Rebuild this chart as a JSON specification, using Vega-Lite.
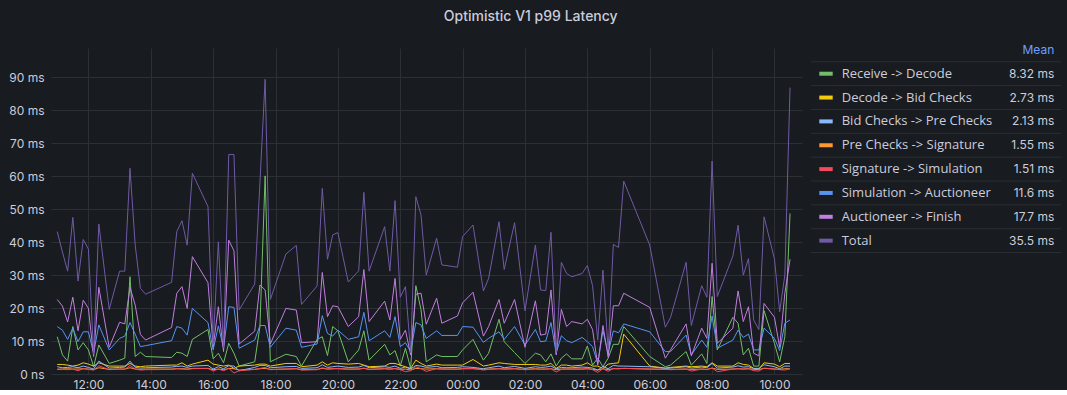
{
"$schema": "https://vega.github.io/schema/vega-lite/v6.json",
"background": "#181b1f",
"padding": {"left": 0, "top": 9, "right": 7, "bottom": 0},
"title": {"text": "Optimistic V1 p99 Latency", "anchor": "middle", "offset": 20, "fontSize": 14, "font": "Inter", "fontWeight": 500, "color": "#CCCCDC"},
"config": {"view": {"stroke": null}, "font": "Inter"},
"spacing": 8,
"datasets": {
"series": [
{"t":"2024-01-01T11:00","rd":11.3,"db":2.9,"bp":2.2,"ps":1.4,"ss":1.5,"sa":14.4,"af":22.6,"tot":43.2},
{"t":"2024-01-01T11:10","rd":5.8,"db":2.9,"bp":1.9,"ps":1.5,"ss":1.4,"sa":13.3,"af":20.6,"tot":37},
{"t":"2024-01-01T11:20","rd":3.9,"db":2.7,"bp":2.0,"ps":1.6,"ss":1.3,"sa":10.5,"af":15.8,"tot":31.2},
{"t":"2024-01-01T11:30","rd":14.4,"db":2.4,"bp":2.2,"ps":1.5,"ss":1.5,"sa":13.9,"af":23.3,"tot":47.5},
{"t":"2024-01-01T11:40","rd":7.3,"db":2.7,"bp":1.9,"ps":1.5,"ss":1.0,"sa":9.8,"af":13.1,"tot":28.2},
{"t":"2024-01-01T11:50","rd":9.5,"db":3.4,"bp":2.4,"ps":1.6,"ss":1.6,"sa":12.8,"af":22.4,"tot":40.8},
{"t":"2024-01-01T12:00","rd":7.3,"db":3.0,"bp":2.0,"ps":1.5,"ss":1.4,"sa":12.8,"af":19.9,"tot":37.9},
{"t":"2024-01-01T12:10","rd":2.2,"db":2.4,"bp":1.5,"ps":1.3,"ss":1.2,"sa":6.3,"af":5.3,"tot":6},
{"t":"2024-01-01T12:20","rd":8.8,"db":3.4,"bp":3.9,"ps":1.9,"ss":2.5,"sa":14.9,"af":26.3,"tot":45.5},
{"t":"2024-01-01T12:40","rd":3.2,"db":2.4,"bp":1.8,"ps":1.4,"ss":1.3,"sa":7.3,"af":8.1,"tot":19.6},
{"t":"2024-01-01T13:00","rd":4.2,"db":2.4,"bp":2.0,"ps":1.5,"ss":1.5,"sa":10.8,"af":15.7,"tot":31.2},
{"t":"2024-01-01T13:10","rd":4.8,"db":2.4,"bp":2.1,"ps":1.5,"ss":1.4,"sa":11.5,"af":15.2,"tot":31.2},
{"t":"2024-01-01T13:20","rd":29.5,"db":3.2,"bp":3.9,"ps":1.9,"ss":2.6,"sa":15.6,"af":26.3,"tot":62.4},
{"t":"2024-01-01T13:30","rd":5.3,"db":2.4,"bp":2.0,"ps":1.5,"ss":1.5,"sa":12.1,"af":20.9,"tot":39.1},
{"t":"2024-01-01T13:40","rd":6.6,"db":2.2,"bp":1.8,"ps":1.4,"ss":1.2,"sa":8.3,"af":12,"tot":26},
{"t":"2024-01-01T13:50","rd":5.3,"db":2.4,"bp":1.9,"ps":1.5,"ss":1.3,"sa":8.6,"af":10.3,"tot":24.2},
{"t":"2024-01-01T14:40","rd":5,"db":2.7,"bp":2.1,"ps":1.5,"ss":1.4,"sa":10.1,"af":14.1,"tot":27.8},
{"t":"2024-01-01T14:50","rd":6.6,"db":2.7,"bp":2.3,"ps":1.6,"ss":1.6,"sa":14.4,"af":24.5,"tot":43.2},
{"t":"2024-01-01T15:00","rd":6.3,"db":3.4,"bp":2.4,"ps":1.6,"ss":1.5,"sa":13.9,"af":26.5,"tot":46.5},
{"t":"2024-01-01T15:10","rd":5.3,"db":2.4,"bp":2.0,"ps":1.5,"ss":1.4,"sa":11.8,"af":19.9,"tot":39.1},
{"t":"2024-01-01T15:20","rd":10.5,"db":3.0,"bp":2.4,"ps":1.7,"ss":1.6,"sa":19.9,"af":35.6,"tot":60.9},
{"t":"2024-01-01T15:50","rd":13.5,"db":4.2,"bp":2.6,"ps":1.7,"ss":1.7,"sa":15.6,"af":27.7,"tot":50.8},
{"t":"2024-01-01T16:00","rd":4.6,"db":3.0,"bp":1.5,"ps":1.3,"ss":0.9,"sa":7.3,"af":8.3,"tot":9},
{"t":"2024-01-01T16:10","rd":6.3,"db":2.7,"bp":2.2,"ps":1.5,"ss":1.5,"sa":14.6,"af":20.4,"tot":40.1},
{"t":"2024-01-01T16:20","rd":3.4,"db":2.4,"bp":1.6,"ps":1.3,"ss":1.0,"sa":7.8,"af":6.8,"tot":8},
{"t":"2024-01-01T16:30","rd":9.3,"db":2.7,"bp":2.5,"ps":1.7,"ss":1.7,"sa":20.4,"af":40.6,"tot":66.6},
{"t":"2024-01-01T16:40","rd":6.3,"db":1.7,"bp":2.4,"ps":1.6,"ss":0.3,"sa":20.2,"af":37.4,"tot":66.6},
{"t":"2024-01-01T16:50","rd":2.4,"db":2.4,"bp":1.0,"ps":1.2,"ss":1.0,"sa":7.8,"af":9.1,"tot":19.4},
{"t":"2024-01-01T17:20","rd":3.7,"db":2.7,"bp":2.0,"ps":1.4,"ss":1.4,"sa":10.3,"af":13,"tot":27.3},
{"t":"2024-01-01T17:30","rd":14.4,"db":3.0,"bp":2.6,"ps":1.6,"ss":1.7,"sa":14.7,"af":27,"tot":58},
{"t":"2024-01-01T17:40","rd":60.1,"db":3.0,"bp":2.6,"ps":1.7,"ss":2.0,"sa":14.7,"af":25.5,"tot":89.4},
{"t":"2024-01-01T17:50","rd":3.7,"db":2.4,"bp":1.9,"ps":1.4,"ss":1.3,"sa":8.1,"af":9.1,"tot":22.6},
{"t":"2024-01-01T18:20","rd":6,"db":3.2,"bp":2.2,"ps":1.5,"ss":1.5,"sa":13.9,"af":19.9,"tot":36.4},
{"t":"2024-01-01T18:40","rd":5.3,"db":3.2,"bp":2.3,"ps":1.6,"ss":1.6,"sa":13.3,"af":19.4,"tot":39},
{"t":"2024-01-01T18:50","rd":2.4,"db":2.2,"bp":1.7,"ps":1.3,"ss":1.2,"sa":8.1,"af":9.5,"tot":21.1},
{"t":"2024-01-01T19:20","rd":10.5,"db":2.7,"bp":1.9,"ps":1.4,"ss":1.3,"sa":9.1,"af":9.8,"tot":26.7},
{"t":"2024-01-01T19:30","rd":11.3,"db":3.7,"bp":2.8,"ps":1.7,"ss":1.9,"sa":17.7,"af":30.8,"tot":56.3},
{"t":"2024-01-01T19:40","rd":5.6,"db":2.7,"bp":2.0,"ps":1.5,"ss":1.5,"sa":12.3,"af":17.4,"tot":34.8},
{"t":"2024-01-01T19:50","rd":14.4,"db":3.4,"bp":2.2,"ps":1.6,"ss":1.6,"sa":11.5,"af":20.7,"tot":42.2},
{"t":"2024-01-01T20:00","rd":13.1,"db":3.2,"bp":2.4,"ps":1.6,"ss":1.7,"sa":13.3,"af":20.4,"tot":42.9},
{"t":"2024-01-01T20:20","rd":3.7,"db":3.0,"bp":2.0,"ps":1.5,"ss":1.4,"sa":10.5,"af":14.4,"tot":27.9},
{"t":"2024-01-01T20:40","rd":7.3,"db":3.2,"bp":2.1,"ps":1.5,"ss":1.5,"sa":11.3,"af":17.4,"tot":31.3},
{"t":"2024-01-01T20:50","rd":13.1,"db":2.7,"bp":2.6,"ps":1.7,"ss":1.8,"sa":18.7,"af":31.7,"tot":55.1},
{"t":"2024-01-01T21:00","rd":4.2,"db":2.2,"bp":1.9,"ps":1.4,"ss":1.4,"sa":10.1,"af":15.9,"tot":31.2},
{"t":"2024-01-01T21:30","rd":9,"db":2.4,"bp":2.2,"ps":1.6,"ss":1.6,"sa":13.1,"af":22.1,"tot":44.7},
{"t":"2024-01-01T21:40","rd":5.8,"db":3.2,"bp":2.0,"ps":1.5,"ss":1.5,"sa":11.1,"af":16.4,"tot":31.2},
{"t":"2024-01-01T21:50","rd":7.1,"db":3.2,"bp":2.4,"ps":1.6,"ss":1.7,"sa":17.4,"af":29,"tot":52.6},
{"t":"2024-01-01T22:00","rd":2.4,"db":2.7,"bp":1.7,"ps":1.4,"ss":1.3,"sa":8.3,"af":10.5,"tot":23.3},
{"t":"2024-01-01T22:10","rd":7.8,"db":2.2,"bp":2.1,"ps":1.5,"ss":0.7,"sa":9.5,"af":13.3,"tot":26.5},
{"t":"2024-01-01T22:20","rd":1.7,"db":1.7,"bp":1.5,"ps":1.2,"ss":1.0,"sa":6.8,"af":5.8,"tot":6.5},
{"t":"2024-01-01T22:30","rd":26.8,"db":4.2,"bp":2.6,"ps":1.7,"ss":2.2,"sa":15.6,"af":24.2,"tot":53.8},
{"t":"2024-01-01T22:40","rd":19.5,"db":3.2,"bp":2.4,"ps":1.6,"ss":1.6,"sa":14.9,"af":24.5,"tot":48.2},
{"t":"2024-01-01T22:50","rd":3.7,"db":2.4,"bp":2.0,"ps":1.5,"ss":0.8,"sa":10.8,"af":15.1,"tot":30},
{"t":"2024-01-01T23:10","rd":5.8,"db":3.0,"bp":2.3,"ps":1.6,"ss":1.6,"sa":13.1,"af":23,"tot":41.2},
{"t":"2024-01-01T23:20","rd":5.3,"db":2.7,"bp":1.9,"ps":1.5,"ss":1.5,"sa":11.7,"af":15.4,"tot":33.1},
{"t":"2024-01-01T23:50","rd":5.3,"db":2.7,"bp":2.0,"ps":1.5,"ss":1.4,"sa":11.7,"af":17.6,"tot":32.4},
{"t":"2024-01-02T00:00","rd":7.3,"db":2.7,"bp":2.2,"ps":1.6,"ss":1.6,"sa":14.4,"af":21.6,"tot":41.7},
{"t":"2024-01-02T00:20","rd":10.5,"db":4.4,"bp":2.0,"ps":1.6,"ss":1.7,"sa":14.2,"af":24.8,"tot":45.2},
{"t":"2024-01-02T00:40","rd":4.2,"db":2.4,"bp":1.6,"ps":1.4,"ss":1.2,"sa":9.6,"af":11.5,"tot":25.2},
{"t":"2024-01-02T00:50","rd":6.3,"db":2.7,"bp":1.9,"ps":1.5,"ss":1.4,"sa":10.8,"af":14.4,"tot":29},
{"t":"2024-01-02T01:10","rd":16.6,"db":3.4,"bp":2.4,"ps":1.6,"ss":1.6,"sa":12.8,"af":22.6,"tot":46.2},
{"t":"2024-01-02T01:20","rd":9.8,"db":3.2,"bp":1.9,"ps":1.5,"ss":1.5,"sa":10.5,"af":15.4,"tot":31.7},
{"t":"2024-01-02T01:40","rd":6.5,"db":2.9,"bp":2.3,"ps":1.6,"ss":1.6,"sa":14.4,"af":22.6,"tot":45.9},
{"t":"2024-01-02T02:00","rd":3.2,"db":2.9,"bp":1.7,"ps":1.4,"ss":1.3,"sa":8.8,"af":8.1,"tot":19.2},
{"t":"2024-01-02T02:20","rd":6.3,"db":2.9,"bp":2.2,"ps":1.6,"ss":1.5,"sa":13.5,"af":22.2,"tot":39.1},
{"t":"2024-01-02T02:30","rd":5.8,"db":2.7,"bp":2.0,"ps":1.5,"ss":1.4,"sa":9.8,"af":11.8,"tot":25.5},
{"t":"2024-01-02T02:40","rd":3.7,"db":2.7,"bp":2.1,"ps":1.5,"ss":1.5,"sa":10,"af":12.1,"tot":25.3},
{"t":"2024-01-02T02:50","rd":6.1,"db":3.2,"bp":2.4,"ps":1.6,"ss":1.6,"sa":15.6,"af":25.5,"tot":43},
{"t":"2024-01-02T03:00","rd":2.4,"db":1.7,"bp":1.6,"ps":1.3,"ss":0.6,"sa":6.3,"af":5.8,"tot":6.5},
{"t":"2024-01-02T03:10","rd":4.8,"db":2.7,"bp":2.0,"ps":1.5,"ss":1.4,"sa":11.6,"af":19.6,"tot":33.9},
{"t":"2024-01-02T03:20","rd":6.1,"db":2.7,"bp":1.9,"ps":1.5,"ss":1.5,"sa":10.1,"af":14.4,"tot":30.5},
{"t":"2024-01-02T03:30","rd":4.6,"db":2.4,"bp":1.9,"ps":1.5,"ss":1.5,"sa":9.5,"af":15.9,"tot":29.5},
{"t":"2024-01-02T03:50","rd":4.6,"db":2.7,"bp":2.1,"ps":1.5,"ss":1.5,"sa":11.1,"af":15.2,"tot":30.5},
{"t":"2024-01-02T04:00","rd":8.5,"db":3.4,"bp":2.0,"ps":1.6,"ss":1.6,"sa":9.8,"af":16.6,"tot":32.9},
{"t":"2024-01-02T04:10","rd":2.7,"db":2.4,"bp":1.8,"ps":1.4,"ss":1.3,"sa":8.3,"af":13.5,"tot":26.8},
{"t":"2024-01-02T04:20","rd":4.8,"db":2.4,"bp":1.2,"ps":1.2,"ss":0.5,"sa":3.2,"af":2.7,"tot":10.3},
{"t":"2024-01-02T04:30","rd":2.2,"db":1.7,"bp":2.3,"ps":1.6,"ss":1.6,"sa":13.1,"af":14.7,"tot":31.5},
{"t":"2024-01-02T04:40","rd":4.8,"db":3.0,"bp":1.6,"ps":1.3,"ss":0.8,"sa":6.3,"af":5.1,"tot":7.3},
{"t":"2024-01-02T04:50","rd":9,"db":3.2,"bp":2.6,"ps":1.6,"ss":1.7,"sa":13.1,"af":20.7,"tot":39.3},
{"t":"2024-01-02T05:00","rd":9,"db":3.4,"bp":2.4,"ps":1.6,"ss":1.6,"sa":12.5,"af":20.7,"tot":38.4},
{"t":"2024-01-02T05:10","rd":14.4,"db":12.1,"bp":2.4,"ps":1.7,"ss":1.7,"sa":15.2,"af":24.5,"tot":58.5},
{"t":"2024-01-02T06:00","rd":5.3,"db":2.4,"bp":2.2,"ps":1.5,"ss":1.5,"sa":12.8,"af":20.2,"tot":39.1},
{"t":"2024-01-02T06:30","rd":2.2,"db":1.8,"bp":1.7,"ps":1.4,"ss":1.4,"sa":6.8,"af":4.8,"tot":14.2},
{"t":"2024-01-02T06:40","rd":2.7,"db":2.0,"bp":1.8,"ps":1.4,"ss":1.3,"sa":6.8,"af":7.3,"tot":17.1},
{"t":"2024-01-02T07:10","rd":6.8,"db":2.4,"bp":2.2,"ps":1.5,"ss":1.5,"sa":11.8,"af":15.2,"tot":33.9},
{"t":"2024-01-02T07:20","rd":2.7,"db":2.2,"bp":1.8,"ps":1.4,"ss":0.9,"sa":5.8,"af":5.5,"tot":14.7},
{"t":"2024-01-02T07:40","rd":6.1,"db":2.4,"bp":2.1,"ps":1.5,"ss":1.5,"sa":10.3,"af":13.9,"tot":26.8},
{"t":"2024-01-02T07:50","rd":3.2,"db":2.2,"bp":1.9,"ps":1.4,"ss":1.3,"sa":8.1,"af":10.8,"tot":23.3},
{"t":"2024-01-02T08:00","rd":23.5,"db":3.4,"bp":3.2,"ps":1.8,"ss":1.8,"sa":17.6,"af":33.6,"tot":64.6},
{"t":"2024-01-02T08:10","rd":7.3,"db":2.4,"bp":1.8,"ps":1.4,"ss":0.7,"sa":7.8,"af":9.3,"tot":23.5},
{"t":"2024-01-02T08:40","rd":17.2,"db":2.4,"bp":2.1,"ps":1.5,"ss":1.5,"sa":10.3,"af":13.9,"tot":35.8},
{"t":"2024-01-02T08:50","rd":15.4,"db":3.4,"bp":2.5,"ps":1.6,"ss":1.6,"sa":13.3,"af":25.2,"tot":45.1},
{"t":"2024-01-02T09:00","rd":5.8,"db":2.9,"bp":2.1,"ps":1.5,"ss":1.5,"sa":11.1,"af":15.9,"tot":30},
{"t":"2024-01-02T09:10","rd":7.8,"db":2.7,"bp":2.2,"ps":1.6,"ss":1.6,"sa":12.1,"af":20.4,"tot":35},
{"t":"2024-01-02T09:20","rd":2.4,"db":1.7,"bp":1.7,"ps":1.4,"ss":1.0,"sa":7.3,"af":6.3,"tot":16.4},
{"t":"2024-01-02T09:30","rd":2.4,"db":1.5,"bp":1.7,"ps":1.4,"ss":0.9,"sa":7.3,"af":5.5,"tot":13.5},
{"t":"2024-01-02T09:40","rd":19.2,"db":3.4,"bp":2.8,"ps":1.7,"ss":1.8,"sa":13.9,"af":21.4,"tot":47.7},
{"t":"2024-01-02T10:00","rd":9.3,"db":3.0,"bp":2.2,"ps":1.5,"ss":1.5,"sa":10.8,"af":17.2,"tot":34.9},
{"t":"2024-01-02T10:10","rd":3.7,"db":2.2,"bp":1.6,"ps":1.4,"ss":1.3,"sa":7.1,"af":8.1,"tot":18.9},
{"t":"2024-01-02T10:20","rd":11.3,"db":3.2,"bp":2.4,"ps":1.6,"ss":1.2,"sa":15.4,"af":24.5,"tot":30},
{"t":"2024-01-02T10:30","rd":48.7,"db":3.2,"bp":2.4,"ps":1.6,"ss":1.6,"sa":16.4,"af":34.8,"tot":86.9}
],
"legendrows": [
{"i":-1,"key":"hdr","name":"","mean":"Mean"},
{"i":0,"key":"rd","name":"Receive -> Decode","mean":"8.32 ms"},
{"i":1,"key":"db","name":"Decode -> Bid Checks","mean":"2.73 ms"},
{"i":2,"key":"bp","name":"Bid Checks -> Pre Checks","mean":"2.13 ms"},
{"i":3,"key":"ps","name":"Pre Checks -> Signature","mean":"1.55 ms"},
{"i":4,"key":"ss","name":"Signature -> Simulation","mean":"1.51 ms"},
{"i":5,"key":"sa","name":"Simulation -> Auctioneer","mean":"11.6 ms"},
{"i":6,"key":"af","name":"Auctioneer -> Finish","mean":"17.7 ms"},
{"i":7,"key":"tot","name":"Total","mean":"35.5 ms"}
]
},
"hconcat": [
{
"width": 751, "height": 326,
"data": {"name": "series"},
"transform": [{"fold": ["rd","db","bp","ps","ss","sa","af","tot"], "as": ["key","value"]}],
"mark": {"type": "line", "strokeWidth": 1},
"encoding": {
"x": {"field": "t", "type": "temporal",
"scale": {"nice": false, "domain": [{"year":2024,"month":1,"date":1,"hours":10,"minutes":48},{"year":2024,"month":1,"date":2,"hours":10,"minutes":53}]},
"axis": {"title": null, "format": "%H:%M",
"values": [
{"year":2024,"month":1,"date":1,"hours":12},{"year":2024,"month":1,"date":1,"hours":14},{"year":2024,"month":1,"date":1,"hours":16},{"year":2024,"month":1,"date":1,"hours":18},{"year":2024,"month":1,"date":1,"hours":20},{"year":2024,"month":1,"date":1,"hours":22},
{"year":2024,"month":1,"date":2,"hours":0},{"year":2024,"month":1,"date":2,"hours":2},{"year":2024,"month":1,"date":2,"hours":4},{"year":2024,"month":1,"date":2,"hours":6},{"year":2024,"month":1,"date":2,"hours":8},{"year":2024,"month":1,"date":2,"hours":10}],
"grid": true, "gridColor": "#2c2f34", "domain": false, "ticks": false, "labelColor": "#CCCCDC", "labelFontSize": 12, "labelFont": "Inter", "labelPadding": 5, "labelFlush": false}},
"y": {"field": "value", "type": "quantitative",
"scale": {"domain": [0, 98.9], "nice": false},
"axis": {"title": null, "values": [0,10,20,30,40,50,60,70,80,90], "labelExpr": "datum.value == 0 ? '0 ns' : datum.value + ' ms'", "grid": true, "gridColor": "#2c2f34", "domain": false, "ticks": false, "labelColor": "#CCCCDC", "labelFontSize": 12, "labelFont": "Inter", "labelPadding": 7, "minExtent": 51, "maxExtent": 51}},
"color": {"field": "key", "type": "nominal",
"scale": {"domain": ["rd","db","bp","ps","ss","sa","af","tot"], "range": ["#73BF69","#F2CC0C","#8AB8FF","#FF9830","#F2495C","#5794F2","#C27FE0","#705AA6"]},
"legend": null}
}
},
{
"width": 250, "height": 326,
"data": {"name": "legendrows"},
"encoding": {"y": {"field": "i", "type": "quantitative", "scale": {"domain": [-1.0776, 12.591], "reverse": true, "nice": false, "zero": false}, "axis": null}},
"layer": [
{"mark": {"type": "rule", "color": "#2c2e33", "strokeWidth": 1, "yOffset": 11.93},
"encoding": {"x": {"datum": 0, "type": "quantitative", "scale": {"domain": [0, 250], "nice": false, "zero": false}, "axis": null}, "x2": {"datum": 250}}},
{"transform": [{"filter": "datum.i >= 0"}],
"mark": {"type": "rule", "strokeWidth": 4},
"encoding": {"x": {"datum": 8.3, "type": "quantitative"}, "x2": {"datum": 21.7},
"color": {"field": "key", "type": "nominal", "scale": {"domain": ["rd","db","bp","ps","ss","sa","af","tot"], "range": ["#73BF69","#F2CC0C","#8AB8FF","#FF9830","#F2495C","#5794F2","#C27FE0","#705AA6"]}, "legend": null}}},
{"mark": {"type": "text", "align": "left", "baseline": "middle", "fontSize": 13, "font": "Open Sans", "color": "#CCCCDC"},
"encoding": {"x": {"datum": 30.7, "type": "quantitative"}, "text": {"field": "name"}}},
{"mark": {"type": "text", "align": "right", "baseline": "middle", "fontSize": 12, "font": "Inter"},
"encoding": {"x": {"datum": 243.3, "type": "quantitative"}, "text": {"field": "mean"},
"color": {"condition": {"test": "datum.i < 0", "value": "#6E9FFF"}, "value": "#CCCCDC"}}}
]
}
]
}
